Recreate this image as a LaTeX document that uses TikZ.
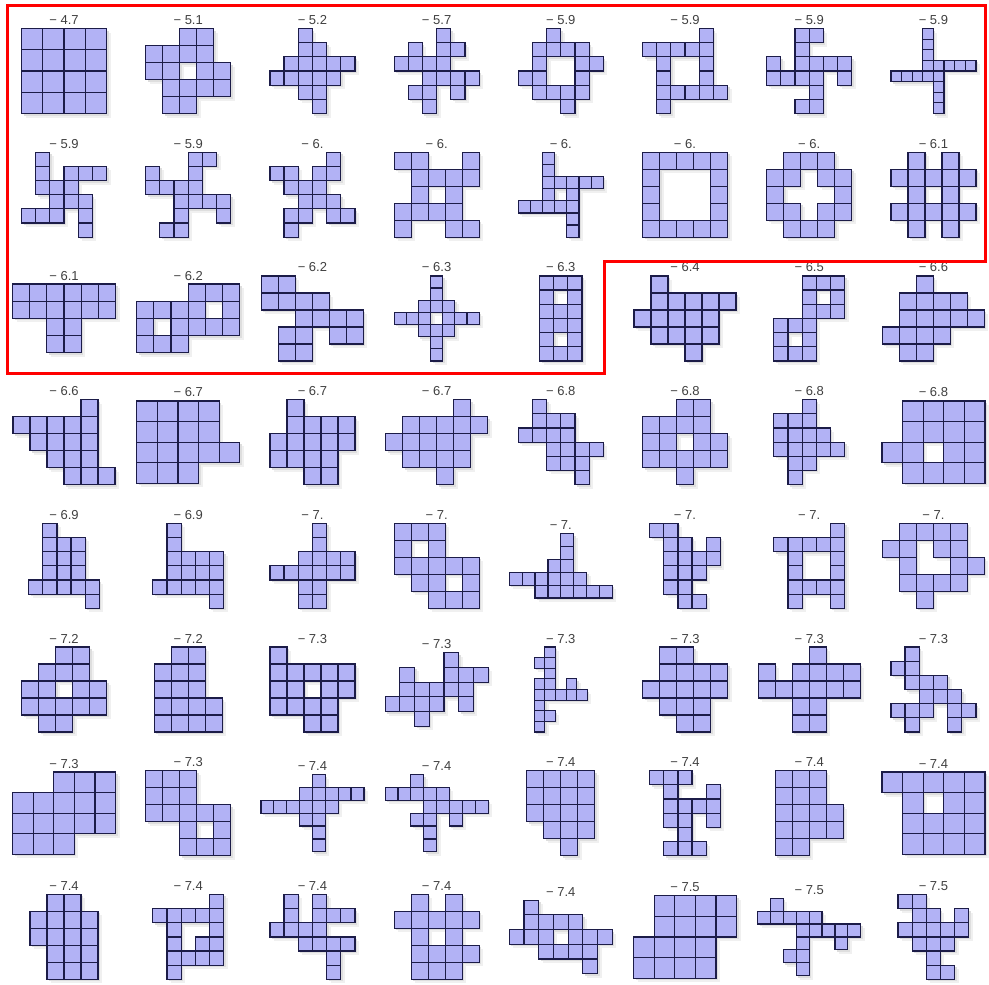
\documentclass[tikz,border=0pt]{standalone}
\usepackage{fontspec}
\setmainfont{Liberation Sans}
\usepackage{xcolor}
\definecolor{CellColor}{HTML}{B2B2F5}
\definecolor{EdgeColor}{HTML}{1C1C48}
\definecolor{LabelColor}{HTML}{404040}
\definecolor{FrameColor}{HTML}{FF0000}

% #1 column, #2 row, #3 score, #4 width, #5 height, #6 runs row/from/to
\newcommand{\polyomino}[6]{%
  \pgfmathsetmacro{\cellsz}{min(103/#4,85/#5)}%
  \pgfmathsetmacro{\midx}{64+124.2*#1}%
  \pgfmathsetmacro{\midy}{71+123.7*#2}%
  \pgfmathsetmacro{\orgx}{\midx-#4*\cellsz/2}%
  \pgfmathsetmacro{\orgy}{\midy-#5*\cellsz/2}%
  \foreach \rw/\ca/\cb in {#6}{
    \foreach \cl in {\ca,...,\cb}
      \fill[castglow] ({\orgx+\cl*\cellsz+4},{\orgy+\rw*\cellsz+4}) rectangle ++(\cellsz,\cellsz);
  }
  \foreach \rw/\ca/\cb in {#6}{
    \foreach \cl in {\ca,...,\cb}
      \fill[castshadow] ({\orgx+\cl*\cellsz+2},{\orgy+\rw*\cellsz+2}) rectangle ++(\cellsz,\cellsz);
  }
  \foreach \rw/\ca/\cb in {#6}{
    \foreach \cl in {\ca,...,\cb}
      \filldraw[polycell] ({\orgx+\cl*\cellsz},{\orgy+\rw*\cellsz}) rectangle ++(\cellsz,\cellsz);
  }
  \node[score] (lbl-#1-#2) at (\midx,\orgy-4) {− #3};
}

\begin{document}
\begin{tikzpicture}[x=1pt, y=-1pt,
  polycell/.style={fill=CellColor, draw=EdgeColor, line width=1.2pt},
  castglow/.style={fill=black!6},
  castshadow/.style={fill=black!13},
  score/.style={anchor=base, inner sep=0pt, text=LabelColor, font=\fontsize{13}{15}\selectfont}]
  \fill[white] (0,0) rectangle (989,985);
  \useasboundingbox (0,0) rectangle (989,985);

  \polyomino{0}{0}{4.7}{4}{4}{0/0/3,1/0/3,2/0/3,3/0/3}
  \polyomino{1}{0}{5.1}{5}{5}{0/2/3,1/0/3,2/0/1,2/3/4,3/1/4,4/1/2}
  \polyomino{2}{0}{5.2}{6}{6}{0/2/2,1/2/3,2/1/5,3/0/4,4/2/3,5/3/3}
  \polyomino{3}{0}{5.7}{6}{6}{0/3/3,1/1/1,1/3/4,2/0/3,3/2/5,4/1/2,4/4/4,5/2/2}
  \polyomino{4}{0}{5.9}{6}{6}{0/2/2,1/1/4,2/1/1,2/4/5,3/0/1,3/4/4,4/1/4,5/3/3}
  \polyomino{5}{0}{5.9}{6}{6}{0/4/4,1/0/4,2/1/1,2/4/4,3/1/1,3/4/4,4/1/5,5/1/1}
  \polyomino{6}{0}{5.9}{6}{6}{0/2/3,1/2/2,2/0/0,2/2/5,3/0/3,3/5/5,4/3/3,5/2/3}
  \polyomino{7}{0}{5.9}{8}{8}{0/3/3,1/3/3,2/3/3,3/3/7,4/0/4,5/4/4,6/4/4,7/4/4}

  \polyomino{0}{1}{5.9}{6}{6}{0/1/1,1/1/1,1/3/5,2/1/3,3/2/4,4/0/2,4/4/4,5/4/4}
  \polyomino{1}{1}{5.9}{6}{6}{0/3/4,1/0/0,1/3/3,2/0/3,3/2/5,4/2/2,4/5/5,5/1/2}
  \polyomino{2}{1}{6.}{6}{6}{0/4/4,1/0/1,1/3/4,2/1/3,3/2/4,4/1/2,4/4/5,5/1/1}
  \polyomino{3}{1}{6.}{5}{5}{0/0/1,0/4/4,1/1/4,2/1/1,2/3/3,3/0/3,4/0/0,4/3/4}
  \polyomino{4}{1}{6.}{7}{7}{0/2/2,1/2/2,2/2/6,3/2/2,3/4/4,4/0/4,5/4/4,6/4/4}
  \polyomino{5}{1}{6.}{5}{5}{0/0/4,1/0/0,1/4/4,2/0/0,2/4/4,3/0/0,3/4/4,4/0/4}
  \polyomino{6}{1}{6.}{5}{5}{0/1/3,1/0/1,1/3/4,2/0/0,2/4/4,3/0/1,3/3/4,4/1/3}
  \polyomino{7}{1}{6.1}{5}{5}{0/1/1,0/3/3,1/0/4,2/1/1,2/3/3,3/0/4,4/1/1,4/3/3}

  \polyomino{0}{2}{6.1}{6}{4}{0/0/5,1/0/5,2/2/3,3/2/3}
  \polyomino{1}{2}{6.2}{6}{4}{0/3/5,1/0/3,1/5/5,2/0/0,2/2/5,3/0/2}
  \polyomino{2}{2}{6.2}{6}{5}{0/0/1,1/0/3,2/2/5,3/1/2,3/4/5,4/1/2}
  \polyomino{3}{2}{6.3}{7}{7}{0/3/3,1/3/3,2/2/4,3/0/2,3/4/6,4/2/4,5/3/3,6/3/3}
  \polyomino{4}{2}{6.3}{3}{6}{0/0/2,1/0/0,1/2/2,2/0/2,3/0/2,4/0/0,4/2/2,5/0/2}
  \polyomino{5}{2}{6.4}{6}{5}{0/1/1,1/1/5,2/0/4,3/1/4,4/3/3}
  \polyomino{6}{2}{6.5}{5}{6}{0/2/4,1/2/2,1/4/4,2/2/4,3/0/2,4/0/0,4/2/2,5/0/2}
  \polyomino{7}{2}{6.6}{6}{5}{0/2/2,1/1/4,2/1/5,3/0/3,4/1/2}

  \polyomino{0}{3}{6.6}{6}{5}{0/4/4,1/0/4,2/1/4,3/2/4,4/3/5}
  \polyomino{1}{3}{6.7}{5}{4}{0/0/3,1/0/3,2/0/4,3/0/2}
  \polyomino{2}{3}{6.7}{5}{5}{0/1/1,1/1/4,2/0/4,3/0/3,4/2/3}
  \polyomino{3}{3}{6.7}{6}{5}{0/4/4,1/1/5,2/0/4,3/1/4,4/3/3}
  \polyomino{4}{3}{6.8}{6}{6}{0/1/1,1/1/3,2/0/3,3/2/5,4/2/4,5/4/4}
  \polyomino{5}{3}{6.8}{5}{5}{0/2/3,1/0/3,2/0/1,2/3/4,3/0/4,4/2/2}
  \polyomino{6}{3}{6.8}{5}{6}{0/2/2,1/0/2,2/0/3,3/0/4,4/1/2,5/1/1}
  \polyomino{7}{3}{6.8}{5}{4}{0/1/4,1/1/4,2/0/1,2/3/4,3/1/4}

  \polyomino{0}{4}{6.9}{5}{6}{0/1/1,1/1/3,2/1/3,3/1/3,4/0/4,5/4/4}
  \polyomino{1}{4}{6.9}{5}{6}{0/1/1,1/1/1,2/1/4,3/1/4,4/0/4,5/4/4}
  \polyomino{2}{4}{7.}{6}{6}{0/3/3,1/3/3,2/2/5,3/0/5,4/2/3,5/2/3}
  \polyomino{3}{4}{7.}{5}{5}{0/0/2,1/0/0,1/2/2,2/0/4,3/1/2,3/4/4,4/2/4}
  \polyomino{4}{4}{7.}{8}{5}{0/4/4,1/4/4,2/3/4,3/0/5,4/2/7}
  \polyomino{5}{4}{7.}{5}{6}{0/0/1,1/1/2,1/4/4,2/1/4,3/1/3,4/1/2,5/2/3}
  \polyomino{6}{4}{7.}{5}{6}{0/4/4,1/0/4,2/1/1,2/4/4,3/1/1,3/4/4,4/1/4,5/1/1,5/4/4}
  \polyomino{7}{4}{7.}{6}{5}{0/1/4,1/0/1,1/3/4,2/1/1,2/4/5,3/1/4,4/2/2}

  \polyomino{0}{5}{7.2}{5}{5}{0/2/3,1/1/3,2/0/1,2/3/4,3/0/4,4/1/2}
  \polyomino{1}{5}{7.2}{4}{5}{0/1/2,1/0/2,2/0/2,3/0/3,4/0/3}
  \polyomino{2}{5}{7.3}{5}{5}{0/0/0,1/0/4,2/0/1,2/3/4,3/0/3,4/2/3}
  \polyomino{3}{5}{7.3}{7}{5}{0/4/4,1/1/1,1/4/6,2/1/5,3/0/3,3/5/5,4/2/2}
  \polyomino{4}{5}{7.3}{5}{8}{0/1/1,1/0/1,2/1/1,3/0/1,3/3/3,4/0/4,5/0/0,6/0/1,7/0/0}
  \polyomino{5}{5}{7.3}{5}{5}{0/1/2,1/1/4,2/0/4,3/1/3,4/2/3}
  \polyomino{6}{5}{7.3}{6}{5}{0/3/3,1/0/0,1/2/5,2/0/5,3/2/3,4/2/3}
  \polyomino{7}{5}{7.3}{6}{6}{0/1/1,1/0/1,2/1/3,3/2/4,4/0/2,4/4/5,5/1/1,5/4/4}

  \polyomino{0}{6}{7.3}{5}{4}{0/2/4,1/0/4,2/0/4,3/0/2}
  \polyomino{1}{6}{7.3}{5}{5}{0/0/2,1/0/2,2/0/4,3/2/2,3/4/4,4/2/4}
  \polyomino{2}{6}{7.4}{8}{6}{0/4/4,1/3/7,2/0/5,3/3/4,4/4/4,5/4/4}
  \polyomino{3}{6}{7.4}{8}{6}{0/2/2,1/0/4,2/3/7,3/2/3,3/5/5,4/3/3,5/3/3}
  \polyomino{4}{6}{7.4}{4}{5}{0/0/3,1/0/3,2/0/3,3/1/3,4/2/2}
  \polyomino{5}{6}{7.4}{5}{6}{0/0/2,1/1/1,1/4/4,2/1/4,3/1/2,3/4/4,4/2/2,5/1/3}
  \polyomino{6}{6}{7.4}{4}{5}{0/0/2,1/0/2,2/0/3,3/0/3,4/0/1}
  \polyomino{7}{6}{7.4}{5}{4}{0/0/4,1/1/1,1/3/4,2/1/4,3/1/4}

  \polyomino{0}{7}{7.4}{4}{5}{0/1/2,1/0/3,2/0/3,3/1/3,4/1/3}
  \polyomino{1}{7}{7.4}{5}{6}{0/4/4,1/0/4,2/1/1,2/4/4,3/1/1,3/3/4,4/1/4,5/1/1}
  \polyomino{2}{7}{7.4}{6}{6}{0/1/1,0/3/3,1/1/1,1/3/5,2/0/3,3/2/5,4/4/4,5/4/4}
  \polyomino{3}{7}{7.4}{5}{5}{0/1/1,0/3/3,1/0/4,2/1/1,2/3/3,3/1/4,4/1/3}
  \polyomino{4}{7}{7.4}{7}{5}{0/1/1,1/1/4,2/0/2,2/4/6,3/2/5,4/5/5}
  \polyomino{5}{7}{7.5}{5}{4}{0/1/4,1/1/4,2/0/3,3/0/3}
  \polyomino{6}{7}{7.5}{8}{6}{0/1/1,1/0/4,2/3/7,3/3/3,3/6/6,4/2/3,5/3/3}
  \polyomino{7}{7}{7.5}{5}{6}{0/0/1,1/1/2,1/4/4,2/0/4,3/1/3,4/2/2,5/2/3}

  \draw[FrameColor, line width=3.3pt, line join=miter]
    (7.5,5.5) -- (985.5,5.5) -- (985.5,261.5) -- (604.5,261.5) -- (604.5,373.5) -- (7.5,373.5) -- cycle;
\end{tikzpicture}
\end{document}
